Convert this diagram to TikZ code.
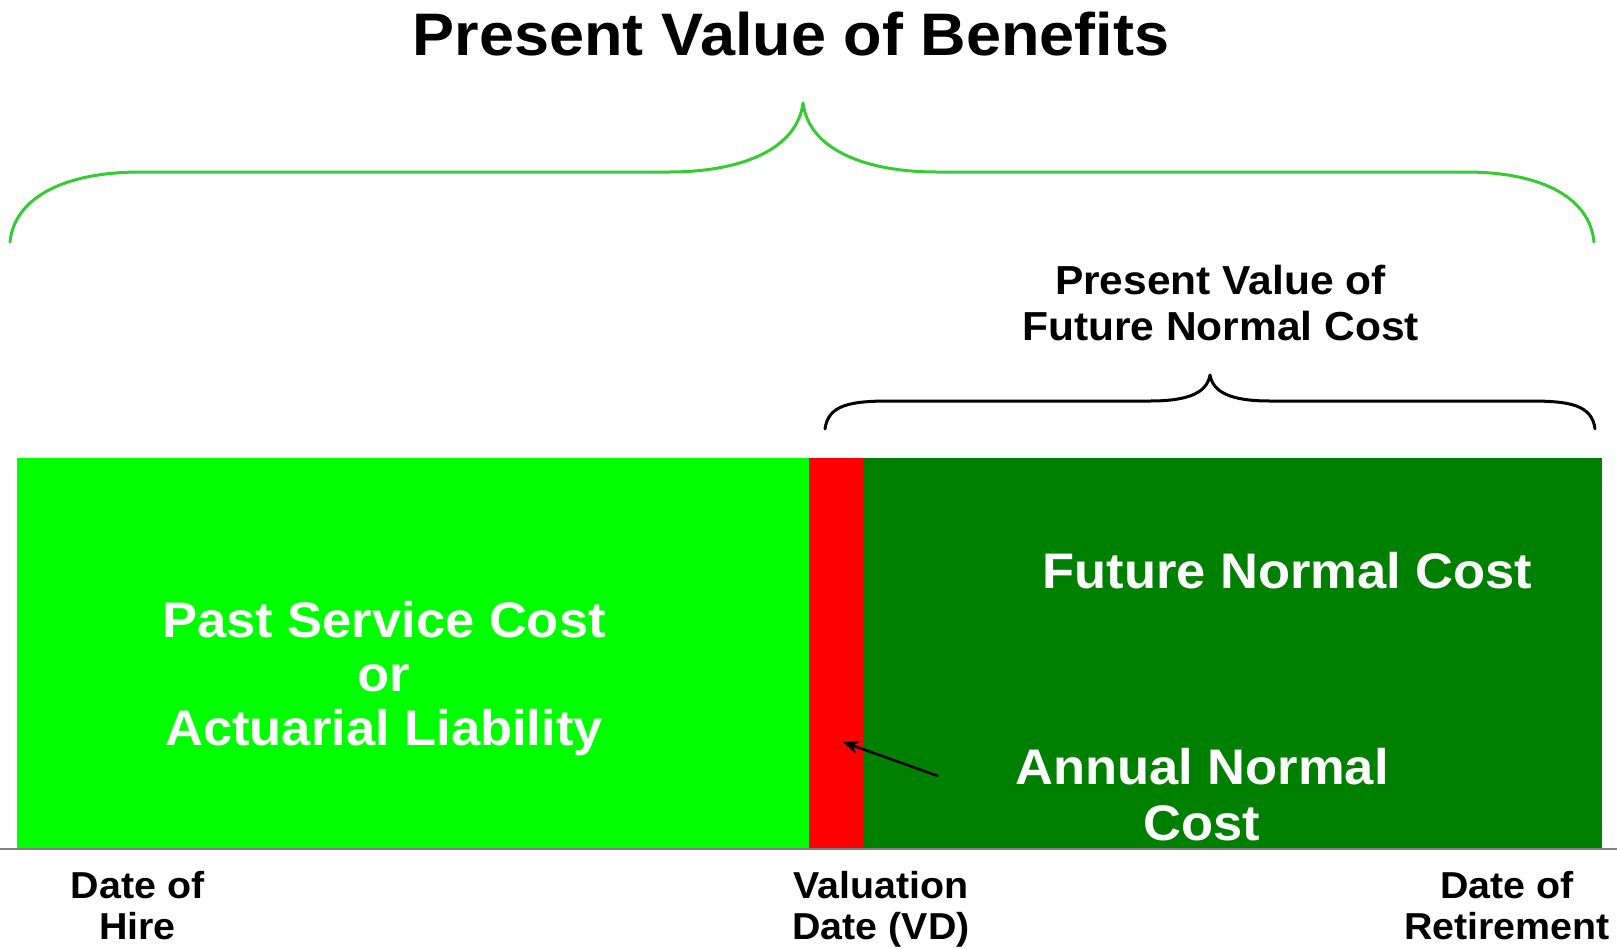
\documentclass[tikz,border=0pt]{standalone}
\usepackage{fontspec}
\usetikzlibrary{arrows.meta}
\newfontfamily\lab{Liberation Sans}[FakeStretch=1.05]
\definecolor{lgreen}{RGB}{0,255,0}
\definecolor{dgreen}{RGB}{0,128,0}
\definecolor{bred}{RGB}{255,0,0}
\definecolor{bracegreen}{RGB}{51,204,51}
\tikzset{
  seg/.style={anchor=north west, inner sep=0pt, outer sep=0pt, draw=none},
  txt/.style={anchor=base, inner sep=0pt, align=center, font=\lab\bfseries},
  brace/.style={line width=3pt, line join=round, line cap=round},
}
\begin{document}
\begin{tikzpicture}[x=1pt,y=-1pt]
\useasboundingbox (0,0) rectangle (1617,948);
% bar segments
\node[seg, fill=lgreen, minimum width=792pt, minimum height=391pt] (past) at (17,458) {};
\node[seg, fill=bred, minimum width=54pt, minimum height=391pt] (annual) at (809,458) {};
\node[seg, fill=dgreen, minimum width=739pt, minimum height=391pt] (future) at (863,458) {};
% axis line
\coordinate (axisL) at (0,849);
\coordinate (axisR) at (1617,849);
\draw[gray, line width=1.5pt] (axisL) -- (axisR);
% big green brace
\draw[brace, bracegreen] (10,242) .. controls (14,200) and (60,172) .. (141,172)
  -- (669,172) .. controls (740,172) and (797,150) .. (803,103)
  .. controls (809,150) and (866,172) .. (937,172)
  -- (1465,172) .. controls (1546,172) and (1590,200) .. (1594,242);
% black brace
\draw[brace, black] (825,429) .. controls (828,405) and (850,401) .. (890,401)
  -- (1150,401) .. controls (1190,401) and (1207,392) .. (1210,375)
  .. controls (1213,392) and (1230,401) .. (1270,401)
  -- (1530,401) .. controls (1570,401) and (1592,405) .. (1595,429);
% texts
\node[txt, font=\lab\bfseries\fontsize{60}{66}\selectfont] (title) at (791,55) {Present Value of Benefits};
\node[txt, font=\lab\bfseries\fontsize{40.5}{46}\selectfont] (pvfnc) at (1220.5,340) {Present Value of\\Future Normal Cost};
\node[txt, white, font=\lab\bfseries\fontsize{50}{54}\selectfont] (pastlbl) at (384,745) {Past Service Cost\\or\\Actuarial Liability};
\node[txt, white, font=\lab\bfseries\fontsize{50}{54}\selectfont] (futlbl) at (1287.5,588) {Future Normal Cost};
\node[txt, white, font=\lab\bfseries\fontsize{50}{56}\selectfont] (anclbl) at (1202,840) {Annual Normal\\Cost};
\node[txt, font=\lab\bfseries\fontsize{37.5}{40.5}\selectfont] (hire) at (137.5,939) {Date of\\Hire};
\node[txt, font=\lab\bfseries\fontsize{37.5}{40.5}\selectfont] (vd) at (881,939) {Valuation\\Date (VD)};
\node[txt, font=\lab\bfseries\fontsize{37.5}{40.5}\selectfont] (ret) at (1507,939) {Date of\\Retirement};
% arrow
\coordinate (arrTail) at (938,776);
\coordinate (arrTip) at (843,742);
\draw[line width=2.5pt, -{Stealth[length=16pt,width=13pt]}] (arrTail) -- (arrTip);
\end{tikzpicture}
\end{document}
